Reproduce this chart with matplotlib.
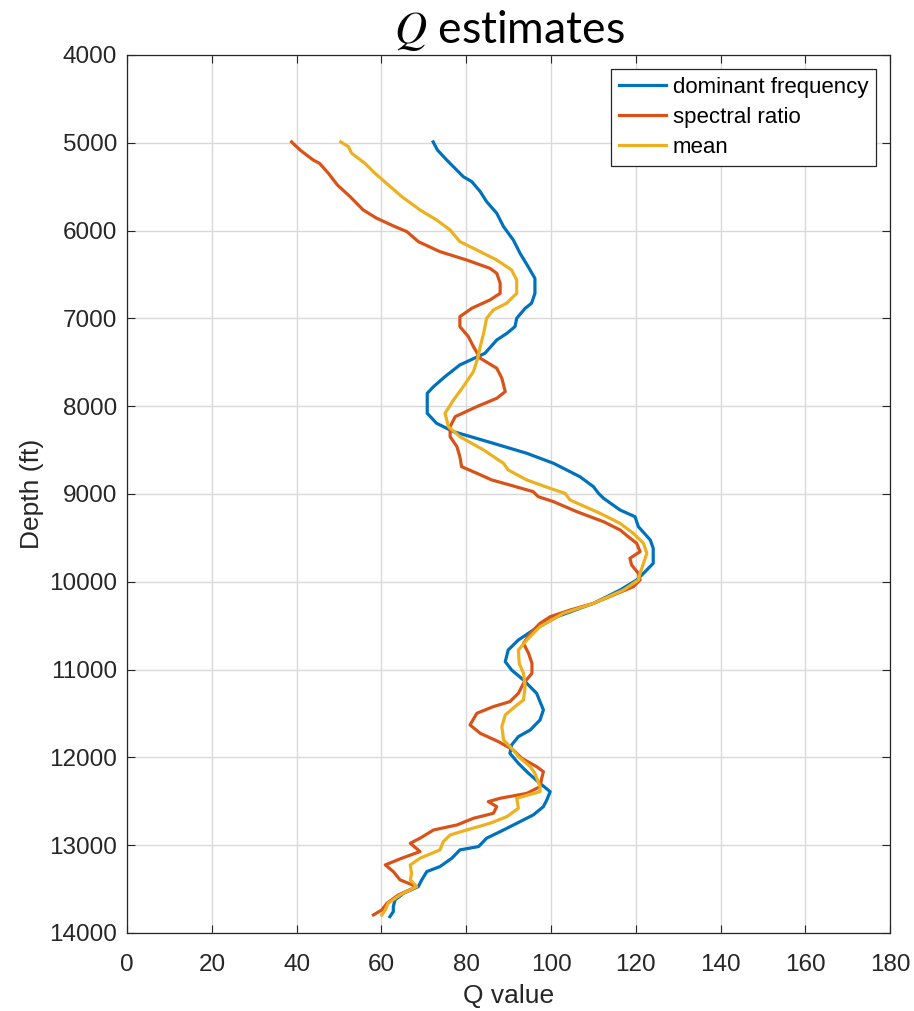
import matplotlib.pyplot as plt

# dominant frequency estimate
dom_depth = [4990, 5082, 5196, 5386, 5442, 5556, 5670, 5803, 5955, 6107, 6259, 6411, 6544,
             6715, 6828, 6885, 6999, 7094, 7170, 7246, 7398, 7530, 7663, 7777, 7853, 8081,
             8195, 8290, 8423, 8537, 8651, 8803, 8917, 8993, 9050, 9183, 9259, 9372, 9524,
             9619, 9790, 9904, 9980, 10094, 10246, 10398, 10550, 10663, 10777, 10910, 11005,
             11119, 11270, 11460, 11574, 11688, 11764, 11859, 11954, 12068, 12182, 12296,
             12391, 12485, 12561, 12656, 12732, 12827, 12921, 13016, 13054, 13149, 13244,
             13301, 13396, 13472, 13548, 13624, 13700, 13757, 13814]
dom_q = [72.2, 73.2, 75.4, 79.3, 81.3, 83.3, 84.8, 87.2, 88.8, 91.1, 92.7, 94.6, 96.2,
         96.2, 95.4, 93.9, 91.9, 91.5, 89.6, 87.2, 84.4, 78.5, 75.0, 72.3, 70.8, 70.8,
         73.0, 77.0, 86.4, 94.3, 100.6, 106.8, 110.0, 111.2, 112.4, 116.3, 119.8, 120.6, 123.4,
         124.1, 124.1, 121.8, 120.2, 116.3, 110.0, 101.4, 95.8, 92.3, 89.9, 89.2, 90.7,
         93.5, 96.6, 98.2, 97.4, 95.1, 92.3, 90.7, 90.3, 92.3, 94.7, 97.4,
         99.8, 99.0, 98.2, 95.8, 92.7, 88.8, 84.8, 82.9, 78.5, 76.6, 73.8,
         70.7, 69.5, 68.7, 65.2, 63.2, 62.8, 62.8, 62.0]

# spectral ratio estimate
spec_depth = [4990, 5082, 5196, 5234, 5348, 5480, 5613, 5765, 5860, 5955, 6012, 6126, 6240,
              6335, 6430, 6487, 6600, 6715, 6790, 6885, 6980, 7094, 7208, 7322, 7454, 7568,
              7682, 7834, 7910, 8005, 8119, 8233, 8347, 8461, 8575, 8689, 8764, 8840, 8898,
              8974, 9031, 9088, 9202, 9316, 9410, 9486, 9562, 9657, 9733, 9809, 9904, 9980,
              10056, 10151, 10246, 10322, 10398, 10474, 10588, 10701, 10815, 10929, 11043,
              11157, 11270, 11365, 11422, 11498, 11631, 11726, 11821, 11916, 12011, 12106,
              12163, 12239, 12334, 12410, 12466, 12504, 12561, 12637, 12694, 12770, 12827,
              12921, 12978, 13073, 13149, 13225, 13301, 13396, 13472, 13567, 13662, 13738, 13795]
spec_q = [38.8, 40.8, 43.9, 45.4, 47.5, 49.6, 52.6, 55.7, 58.9, 63.2, 66.0, 68.7, 73.8,
          80.1, 85.6, 87.2, 88.0, 88.0, 85.6, 81.3, 78.5, 78.5, 80.5, 81.7, 83.3, 87.2,
          88.4, 89.2, 87.2, 82.5, 77.4, 76.2, 76.2, 77.8, 78.5, 78.9, 82.5, 86.0, 90.3,
          95.8, 97.0, 100.6, 106.1, 112.4, 116.3, 118.2, 120.2, 121.0, 118.6, 119.0, 120.6, 121.0,
          119.4, 114.7, 110.0, 104.5, 99.8, 97.4, 95.1, 93.5, 94.7, 95.5, 95.5,
          93.5, 92.3, 90.3, 86.4, 82.5, 80.9, 83.3, 87.6, 91.1, 93.1, 96.6,
          98.2, 97.8, 97.4, 94.3, 88.0, 85.2, 87.2, 86.4, 81.7, 77.8, 72.3,
          69.1, 66.8, 69.1, 64.8, 60.9, 62.8, 64.4, 68.3, 64.0, 61.3, 60.1, 58.1]

# mean of the two
mean_depth = [4990, 5044, 5120, 5234, 5348, 5462, 5613, 5765, 5879, 5993, 6126, 6221, 6335,
              6449, 6563, 6715, 6828, 6904, 6999, 7170, 7322, 7454, 7606, 7777, 7929, 8081,
              8233, 8347, 8499, 8651, 8727, 8841, 8936, 8993, 9069, 9221, 9335, 9448, 9562,
              9676, 9790, 9904, 9980, 10094, 10246, 10360, 10511, 10663, 10777, 10929, 11043,
              11195, 11346, 11422, 11517, 11650, 11802, 11916, 11992, 12106, 12182, 12334,
              12390, 12466, 12580, 12675, 12751, 12827, 12884, 12959, 13054, 13149, 13225,
              13320, 13396, 13472, 13567, 13662, 13738, 13795]
mean_q = [50.4, 52.2, 53.0, 56.1, 58.5, 61.2, 64.8, 69.1, 73.0, 76.2, 78.5, 82.5, 87.2,
          90.7, 91.9, 91.9, 89.5, 86.4, 84.8, 84.1, 83.3, 82.7, 81.7, 79.3, 77.0, 75.0,
          75.8, 78.5, 84.1, 88.8, 89.9, 94.3, 99.8, 103.3, 104.5, 111.6, 116.3, 119.4, 121.8,
          122.6, 121.8, 121.0, 120.6, 117.1, 110.0, 102.9, 97.4, 94.3, 92.3, 92.5, 93.5,
          93.9, 93.5, 91.5, 89.2, 88.4, 88.8, 91.1, 92.3, 95.1, 96.2, 97.4,
          97.4, 91.9, 92.3, 89.6, 85.6, 80.1, 76.2, 74.6, 73.8, 69.1, 66.8,
          67.1, 66.8, 68.3, 64.4, 61.6, 60.9, 60.1]

plt.rcParams['font.family'] = ['Liberation Sans', 'DejaVu Sans']
plt.rcParams['mathtext.fontset'] = 'stix'

fig = plt.figure(figsize=(9.14, 10.11), dpi=100)
ax = fig.add_axes([0.139, 0.0772, 0.835, 0.8684])

ax.plot(dom_q, dom_depth, color='#0072BD', lw=2.3, label='dominant frequency')
ax.plot(spec_q, spec_depth, color='#D95319', lw=2.3, label='spectral ratio')
ax.plot(mean_q, mean_depth, color='#EDB120', lw=2.3, label='mean')

ax.set_xlim(0, 180)
ax.set_ylim(14000, 4000)
ax.set_xticks(range(0, 181, 20))
ax.set_yticks(range(4000, 14001, 1000))
ax.grid(True, color='#d9d9d9', lw=1.0)
ax.set_axisbelow(True)
ax.tick_params(direction='in', top=True, right=True, labelsize=17.5, length=6,
               colors='#262626')
ax.tick_params(axis='x', pad=15)
ax.tick_params(axis='y', pad=7)
for s in ax.spines.values():
    s.set_color('#262626')
    s.set_linewidth(0.9)

ax.set_xlabel('Q value', fontsize=19, color='#262626', labelpad=6)
ax.set_ylabel('Depth (ft)', fontsize=19, color='#262626', labelpad=4)

fig.text(0.557, 0.970, r'$Q$ estimates', fontsize=32, family='Lato',
         ha='center', va='center')

leg = ax.legend(loc='upper right', fontsize=16, fancybox=False, framealpha=1,
                edgecolor='#262626', borderaxespad=0.65, handlelength=2.1,
                handletextpad=0.3, labelspacing=0.4, borderpad=0.35)
leg.get_frame().set_linewidth(0.9)

fig.savefig('out.png', dpi=100)
